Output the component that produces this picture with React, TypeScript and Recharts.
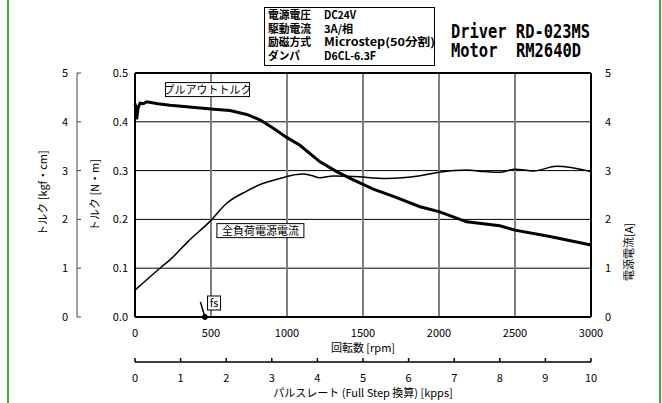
import React from "react";
import {
  ComposedChart,
  Line,
  XAxis,
  YAxis,
  CartesianGrid,
  ReferenceLine,
  ReferenceDot,
} from "recharts";

const FONT = "'Noto Sans CJK JP', 'Noto Sans', sans-serif";

// pull-out torque [N·m] vs speed [rpm]
const torqueRpm = [0, 6, 11, 20, 33, 55, 77, 150, 230, 340, 500, 625, 735, 822, 910, 998, 1085, 1217, 1327, 1436, 1568, 1700, 1875, 2000, 2182, 2400, 2500, 2730, 3000];
const torqueNm = [0.437, 0.43, 0.405, 0.428, 0.438, 0.437, 0.441, 0.437, 0.434, 0.431, 0.426, 0.423, 0.415, 0.404, 0.387, 0.368, 0.352, 0.318, 0.298, 0.281, 0.262, 0.247, 0.226, 0.216, 0.195, 0.187, 0.178, 0.165, 0.1475];

// full-load supply current [A] vs speed [rpm]
const currentRpm = [0, 164, 230, 350, 500, 603, 735, 844, 954, 1064, 1107, 1160, 1217, 1305, 1436, 1655, 1875, 2000, 2182, 2300, 2401, 2500, 2621, 2774, 3000];
const currentA = [0.55, 1.0, 1.17, 1.55, 1.98, 2.33, 2.58, 2.74, 2.84, 2.92, 2.93, 2.9, 2.855, 2.89, 2.88, 2.84, 2.895, 2.965, 3.01, 2.98, 2.965, 3.03, 2.99, 3.09, 2.98];

const rpmTicks = [0, 500, 1000, 1500, 2000, 2500, 3000];
const nmTicks = [0, 0.1, 0.2, 0.3, 0.4, 0.5];
const kgfTicks = [0, 1, 2, 3, 4, 5];
const ampTicks = [0, 1, 2, 3, 4, 5];
const kppsTicks = [0, 1, 2, 3, 4, 5, 6, 7, 8, 9, 10];

const fsRpm = 460;
const specNames = ["電源電圧", "駆動電流", "励磁方式", "ダンパ"];
const specValues = ["DC24V", "3A/相", "Microstep(50分割)", "D6CL-6.3F"];
const driverLine = "Driver RD-023MS";
const motorLine = "Motor  RM2640D";

const torqueData = torqueRpm.map((rpm, i) => ({ rpm, v: torqueNm[i] }));
const currentData = currentRpm.map((rpm, i) => ({ rpm, v: currentA[i] }));
// same torque curve in the secondary units (kpps, kgf·cm), kept invisible so the extra axes get a domain
const pulseData = torqueRpm.map((rpm, i) => ({ kpps: rpm / 300, kgf: torqueNm[i] * 10 }));

const KgfTick = (props: any) => {
  const { x, y, payload } = props;
  return (
    <g>
      <line x1={x + 9} x2={x + 13} y1={y} y2={y} stroke="#444" />
      <text x={x} y={y} dy={4} textAnchor="end" fontSize={11} fill="#000">
        {payload.value}
      </text>
    </g>
  );
};

const KppsTick = (props: any) => {
  const { x, y, payload } = props;
  return (
    <g>
      <line x1={x} x2={x} y1={y - 12} y2={y - 16} stroke="#000" strokeWidth={1.5} />
      <text x={x} y={y} dy={7.5} textAnchor="middle" fontSize={11} fill="#000">
        {payload.value}
      </text>
    </g>
  );
};

const vTitle = (text: string, dx: number, dy: number) => (p: any) => {
  const vb = p.viewBox;
  const cx = vb.x + dx;
  const cy = vb.y + dy;
  return (
    <text
      x={cx}
      y={cy}
      transform={`rotate(-90 ${cx} ${cy})`}
      textAnchor="middle"
      dominantBaseline="central"
      fontSize={11}
      fill="#000"
    >
      {text}
    </text>
  );
};

const hTitle = (text: string, base: number) => (p: any) => {
  const vb = p.viewBox;
  return (
    <text x={vb.x + vb.width / 2} y={vb.y + base} textAnchor="middle" fontSize={11} fill="#000">
      {text}
    </text>
  );
};

const boxLabel = (text: string, w: number) => (p: any) => {
  const { cx, cy } = p;
  return (
    <g>
      <rect x={cx - w / 2} y={cy - 7} width={w} height={14} fill="#fff" stroke="#000" strokeWidth={1} />
      <text x={cx} y={cy + 4} textAnchor="middle" fontSize={11} fill="#000">
        {text}
      </text>
    </g>
  );
};

const specLen = [43, 43, 43, 32];
const valueLen = [32, 29, 111, 52];

function Header() {
  return (
    <svg width={662} height={72} style={{ position: "absolute", left: 0, top: 0 }}>
      <rect x={264.5} y={7.5} width={170} height={58} fill="#fff" stroke="#000" />
      {specNames.map((s, i) => (
        <g key={s} fontWeight="bold" fontSize={11} fill="#000">
          <text x={268} y={19 + i * 13.7} textLength={specLen[i]} lengthAdjust="spacingAndGlyphs">
            {s}
          </text>
          <text x={324} y={19 + i * 13.7} textLength={valueLen[i]} lengthAdjust="spacingAndGlyphs">
            {specValues[i]}
          </text>
        </g>
      ))}
      <g fontFamily="'DejaVu Sans Mono', monospace" fontWeight="bold" fontSize={19} fill="#000">
        <text x={451} y={38} textLength={139} lengthAdjust="spacingAndGlyphs" style={{ whiteSpace: "pre" }}>
          {driverLine}
        </text>
        <text x={451} y={56.5} textLength={130} lengthAdjust="spacingAndGlyphs" style={{ whiteSpace: "pre" }}>
          {motorLine}
        </text>
      </g>
    </svg>
  );
}

export default function App() {
  return (
    <div
      style={{
        position: "fixed",
        left: 0,
        top: 0,
        width: 662,
        height: 403,
        background: "#fff",
        fontFamily: FONT,
        overflow: "hidden",
      }}
    >
      <ComposedChart width={662} height={403} margin={{ top: 73, right: 11, bottom: 6, left: 27 }}>
        <XAxis
          xAxisId="b_kpps"
          dataKey="kpps"
          type="number"
          domain={[0, 10]}
          ticks={kppsTicks}
          height={35}
          axisLine={{ stroke: "#000", strokeWidth: 1.5 }}
          tickLine={false}
          tickSize={0}
          tickMargin={12}
          tick={KppsTick}
          label={{ content: hTitle("パルスレート (Full Step 換算) [kpps]", 35) }}
        />
        <XAxis
          xAxisId="a_rpm"
          dataKey="rpm"
          type="number"
          domain={[0, 3000]}
          ticks={rpmTicks}
          height={45}
          axisLine={false}
          tickLine={false}
          tickSize={0}
          tickMargin={12}
          tick={{ fontSize: 11, fill: "#000" }}
          label={{ content: hTitle("回転数 [rpm]", 35) }}
        />
        <YAxis
          yAxisId="b_kgf"
          type="number"
          domain={[0, 5]}
          ticks={kgfTicks}
          width={50}
          axisLine={{ stroke: "#444" }}
          tickLine={false}
          tickSize={0}
          tickMargin={9}
          tick={KgfTick}
          label={{ content: vTitle("トルク [kgf・cm]", 15, 120) }}
        />
        <YAxis
          yAxisId="a_nm"
          type="number"
          domain={[0, 0.5]}
          ticks={nmTicks}
          width={58}
          axisLine={false}
          tickLine={false}
          tickSize={0}
          tickMargin={7}
          tickFormatter={(v: number) => v.toFixed(1)}
          tick={{ fontSize: 11, fill: "#000" }}
          label={{ content: vTitle("トルク [N・m]", 17, 122) }}
        />
        <YAxis
          yAxisId="c_amp"
          orientation="right"
          type="number"
          domain={[0, 5]}
          ticks={ampTicks}
          width={60}
          axisLine={false}
          tickLine={false}
          tickSize={0}
          tickMargin={14}
          tick={{ fontSize: 11, fill: "#000" }}
          label={{ content: vTitle("電源電流[A]", 37, 179) }}
        />
        <CartesianGrid xAxisId="a_rpm" yAxisId="a_nm" vertical={false} stroke="#000" strokeWidth={1} />
        <CartesianGrid xAxisId="a_rpm" yAxisId="a_nm" horizontal={false} stroke="#808080" strokeWidth={2} />
        <ReferenceLine xAxisId="a_rpm" yAxisId="a_nm" y={0} stroke="#000" strokeWidth={2} />
        <ReferenceLine xAxisId="a_rpm" yAxisId="a_nm" y={0.5} stroke="#000" strokeWidth={2} />
        <ReferenceLine xAxisId="a_rpm" yAxisId="a_nm" x={0} stroke="#000" strokeWidth={2} />
        <ReferenceLine xAxisId="a_rpm" yAxisId="a_nm" x={3000} stroke="#000" strokeWidth={2} />
        <Line
          xAxisId="b_kpps"
          yAxisId="b_kgf"
          data={pulseData}
          dataKey="kgf"
          stroke="none"
          strokeOpacity={0}
          dot={false}
          isAnimationActive={false}
        />
        <Line
          xAxisId="a_rpm"
          yAxisId="c_amp"
          data={currentData}
          dataKey="v"
          type="monotone"
          stroke="#000"
          strokeWidth={1.5}
          dot={false}
          isAnimationActive={false}
        />
        <Line
          xAxisId="a_rpm"
          yAxisId="a_nm"
          data={torqueData}
          dataKey="v"
          type="linear"
          stroke="#000"
          strokeWidth={3}
          dot={false}
          isAnimationActive={false}
        />
        <ReferenceLine
          xAxisId="a_rpm"
          yAxisId="a_nm"
          segment={[
            { x: fsRpm, y: 0 },
            { x: 430, y: 0.031 },
          ]}
          stroke="#000"
          strokeWidth={1.5}
        />
        <ReferenceDot xAxisId="a_rpm" yAxisId="a_nm" x={fsRpm} y={0} r={2.5} fill="#000" stroke="#000" />
        <ReferenceDot xAxisId="a_rpm" yAxisId="a_nm" x={520} y={0.0287} shape={boxLabel("fs", 13)} />
        <ReferenceDot xAxisId="a_rpm" yAxisId="a_nm" x={477} y={0.466} shape={boxLabel("プルアウトトルク", 84)} />
        <ReferenceDot xAxisId="a_rpm" yAxisId="a_nm" x={825} y={0.177} shape={boxLabel("全負荷電源電流", 87)} />
      </ComposedChart>
      <Header />
      <div style={{ position: "absolute", left: 7, top: 0, width: 2, height: 403, background: "#43ad3a" }} />
      <div style={{ position: "absolute", left: 659, top: 0, width: 2, height: 403, background: "#43ad3a" }} />
    </div>
  );
}
